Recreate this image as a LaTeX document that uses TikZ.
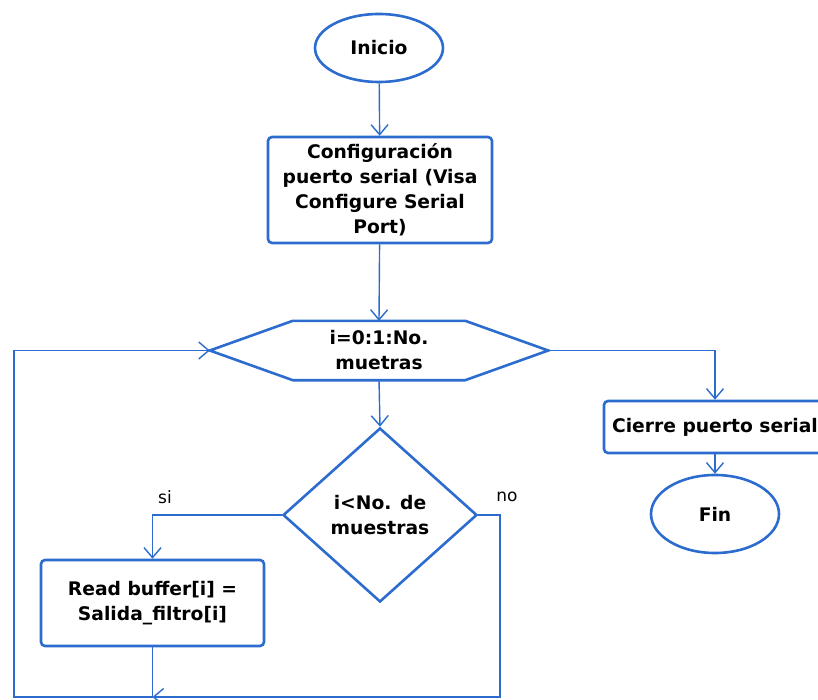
\documentclass[tikz,border=0pt]{standalone}
\usepackage{fontspec}
\setmainfont{DejaVu Sans}
\usetikzlibrary{shapes.geometric,arrows.meta}
\definecolor{flowblue}{RGB}{44,108,206}
\begin{document}
\begin{tikzpicture}[x=1pt,y=-1pt,
  shapeline/.style={draw=flowblue,line width=2.6pt},
  boxfont/.style={font=\bfseries\fontsize{18.7}{25}\selectfont},
  term/.style={shapeline,ellipse,inner sep=0pt,boxfont},
  procbox/.style={shapeline,rounded corners=4pt,align=center,inner sep=0pt,boxfont},
  cond/.style={shapeline,diamond,align=center,inner sep=0pt,boxfont},
  flow/.style={draw=flowblue,line width=1.4pt,-{Straight Barb[length=10pt,width=17pt]}},
  link/.style={draw=flowblue,line width=1.4pt},
  lbl/.style={font=\fontsize{17}{19}\selectfont}]
\useasboundingbox (0,0) rectangle (818,700);

% start / end terminals
\node[term,minimum width=128pt,minimum height=68pt] (inicio) at (379,48) {Inicio};
\node[term,minimum width=128pt,minimum height=78pt] (fin) at (715,514) {Fin};

% process boxes
\node[procbox,minimum width=224pt,minimum height=106pt] (config) at (380,190)
  {Configuración\\puerto serial (Visa\\Configure Serial\\Port)};
\node[procbox,minimum width=223pt,minimum height=86pt] (read) at (152.5,603)
  {Read buffer[i] =\\Salida\_filtro[i]};
\node[procbox,minimum width=222pt,minimum height=52pt] (cierre) at (715,427)
  {Cierre puerto serial};

% loop header (hexagon drawn around its node)
\node[minimum width=338pt,minimum height=59pt,inner sep=0pt,align=center,boxfont]
  (loop) at (379,350.5) {i=0:1:No.\\muetras};
\draw[shapeline] (loop.west) -- ([xshift=83pt]loop.north west)
  -- ([xshift=-83pt]loop.north east) -- (loop.east)
  -- ([xshift=-83pt]loop.south east) -- ([xshift=83pt]loop.south west) -- cycle;

% decision
\node[cond,minimum width=194pt,minimum height=174pt] (test) at (380,515)
  {i<No. de\\muestras};

% branch labels
\node[lbl] (si) at (165,497) {si};
\node[lbl] (no) at (507,497) {no};

% routing points of the return paths
\coordinate (noturn) at (500,515);
\coordinate (bottomR) at (500,697);
\coordinate (join) at (152.5,697);
\coordinate (bottomL) at (14,697);
\coordinate (leftUp) at (14,350.5);

% connectors
\draw[flow] (inicio) -- (config);
\draw[flow] (config) -- (loop.north);
\draw[flow] (loop.south) -- (test.north);
\draw[flow] (test.west) -| (read.north);
\draw[flow] (loop.east) -| (cierre.north);
\draw[flow] (cierre) -- (fin);
\draw[flow] (test.east) -- (noturn) -- (bottomR) -- (join);
\draw[link] (read.south) -- (join);
\draw[flow] (join) -- (bottomL) -- (leftUp) -- (loop.west);
\end{tikzpicture}
\end{document}
